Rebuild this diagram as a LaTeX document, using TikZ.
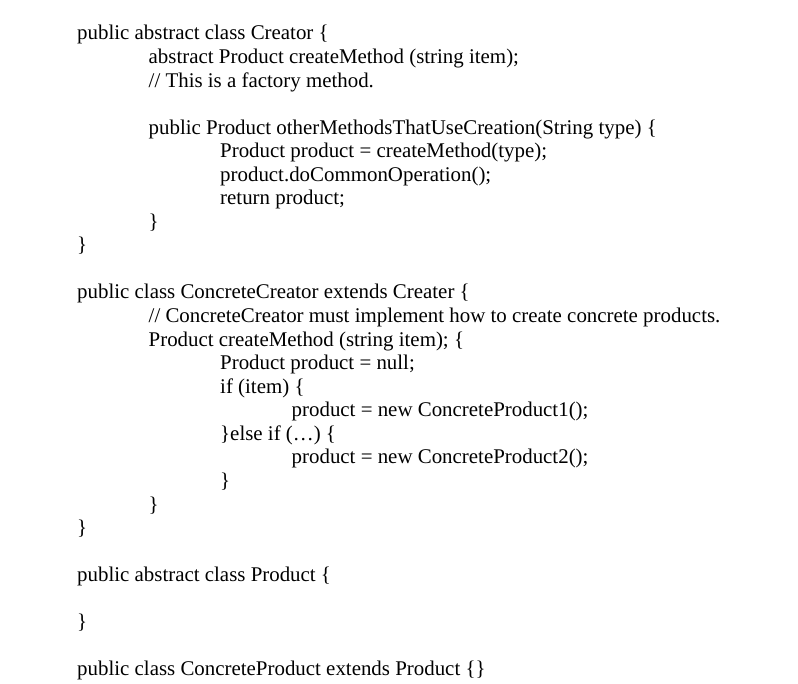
\documentclass[tikz,border=0pt]{standalone}
\usepackage{fontspec}
\setmainfont{Liberation Serif}
\begin{document}
\begin{tikzpicture}[x=1pt,y=-1pt,
        code/.style={anchor=base west,inner sep=0pt,font=\fontsize{20.9}{24}\selectfont}]

        \useasboundingbox (0,0) rectangle (798,684) ;

        \node [code] (creator) at (77,40) {public abstract class Creator \{} ;
        \node [code] (abstractmethod) at (148.5,63.6) {abstract Product createMethod (string item);} ;
        \node [code] (factorycomment) at (148.5,87.1) {// This is a factory method.} ;
        \node [code] (othermethod) at (148.5,134.2) {public Product otherMethodsThatUseCreation(String type) \{} ;
        \node [code] (productline) at (220,157.8) {Product product = createMethod(type);} ;
        \node [code] (commonop) at (220,181.3) {product.doCommonOperation();} ;
        \node [code] (returnline) at (220,204.9) {return product;} ;
        \node [code] (closeother) at (148.5,228.4) {\}} ;
        \node [code] (closecreator) at (77,252) {\}} ;

        \node [code] (concretecreator) at (77,299) {public class ConcreteCreator extends Creater \{} ;
        \node [code] (concretecomment) at (148.5,322.6) {// ConcreteCreator must implement how to create concrete products.} ;
        \node [code] (concretemethod) at (148.5,346.2) {Product createMethod (string item); \{} ;
        \node [code] (nullline) at (220,369.7) {Product product = null;} ;
        \node [code] (ifline) at (220,393.3) {if (item) \{} ;
        \node [code] (newone) at (291.5,416.8) {product = new ConcreteProduct1();} ;
        \node [code] (elseline) at (220,440.4) {\}else if (…) \{} ;
        \node [code] (newtwo) at (291.5,463.9) {product = new ConcreteProduct2();} ;
        \node [code] (closeif) at (220,487.5) {\}} ;
        \node [code] (closemethod) at (148.5,511) {\}} ;
        \node [code] (closeconcrete) at (77,534.6) {\}} ;

        \node [code] (product) at (77,581.7) {public abstract class Product \{} ;
        \node [code] (closeproduct) at (77,628.8) {\}} ;

        \node [code] (concreteproduct) at (77,675.9) {public class ConcreteProduct extends Product \{\}} ;

      \end{tikzpicture}
\end{document}
